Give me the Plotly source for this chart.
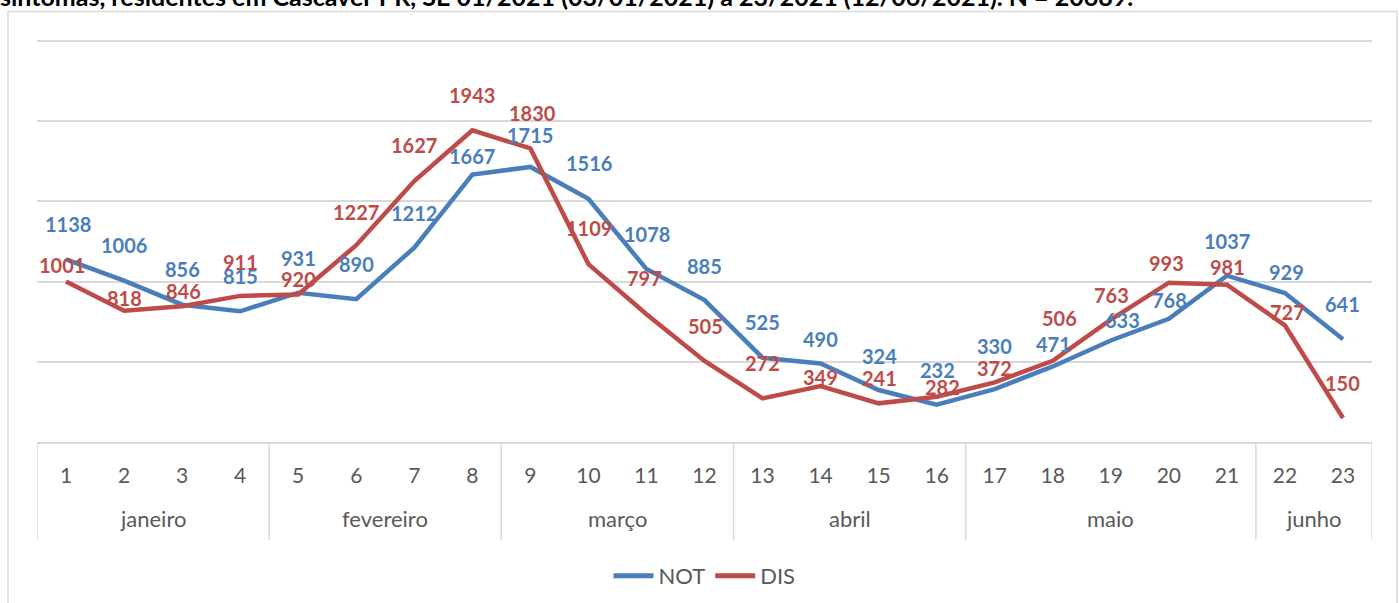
import plotly.graph_objects as go

weeks = list(range(1, 24))
week_labels = [str(w) for w in weeks]
months = ["janeiro", "fevereiro", "março", "abril", "maio", "junho"]
month_weeks = [[1, 2, 3, 4], [5, 6, 7, 8], [9, 10, 11, 12], [13, 14, 15, 16], [17, 18, 19, 20, 21], [22, 23]]
not_vals = [1138, 1006, 856, 815, 931, 890, 1212, 1667, 1715, 1516, 1078, 885,
            525, 490, 324, 232, 330, 471, 633, 768, 1037, 929, 641]
dis_vals = [1001, 818, 846, 911, 920, 1227, 1627, 1943, 1830, 1109, 797, 505,
            272, 349, 241, 282, 372, 506, 763, 993, 981, 727, 150]

title_text = "sintomas, residentes em Cascavel-PR, SE 01/2021 (03/01/2021) a 23/2021 (12/06/2021). N = 20689."

# label offsets (pixels; dy negative = above point)
not_dy = [-35, -36, -36, -35, -35, -35, -35, -19, -32, -36, -35, -34,
          -36, -24, -34, -35, -43, -22, -20, -19, -35, -21, -35]
not_dx = [2, 0, 0, 0, 0, 0, 0, 0, 0, 1, 1, 0, 0, 0, 1, 1, 0, 1, 12, 1, 0, 2, 0]
dis_dy = [-16, -13, -15, -34, -15, -33, -36, -35, -35, -36, -36, -35,
          -35, -9, -25, -10, -14, -43, -25, -20, -18, -13, -35]
dis_dx = [-4, 0, 1, 0, 0, 0, 0, 0, 2, 1, -2, 1, 0, 0, 1, 6, 0, 7, 1, -2, 1, 3, 0]

BLUE = "#4A7EBB"
RED = "#BE4B48"
GRAY = "#595959"
FONT = "Lato"

TOP = 36
BOTTOM_AXIS = 442
plot_h = BOTTOM_AXIS - TOP
y_max = 2500 * plot_h / (BOTTOM_AXIS - 41)

fig = go.Figure()
fig.add_trace(go.Scatter(x=weeks, y=not_vals, name="NOT", mode="lines",
                         line=dict(color=BLUE, width=4.5)))
fig.add_trace(go.Scatter(x=weeks, y=dis_vals, name="DIS", mode="lines",
                         line=dict(color=RED, width=4.5)))

annotations = []
for w, v, dx, dy in zip(weeks, not_vals, not_dx, not_dy):
    annotations.append(dict(x=w, y=v, xref="x", yref="y", text="<b>" + str(v) + "</b>", showarrow=False,
                            xshift=dx, yshift=-dy, font=dict(family=FONT, size=20, color=BLUE)))
for w, v, dx, dy in zip(weeks, dis_vals, dis_dx, dis_dy):
    annotations.append(dict(x=w, y=v, xref="x", yref="y", text="<b>" + str(v) + "</b>", showarrow=False,
                            xshift=dx, yshift=-dy, font=dict(family=FONT, size=20, color=RED)))

def py(pix):
    return (BOTTOM_AXIS - pix) / plot_h
def px(pix):
    return (pix - 37) / 1335

for m, ws in zip(months, month_weeks):
    annotations.append(dict(x=(ws[0] + ws[-1]) / 2, y=py(518), xref="x", yref="paper",
                            text=m, showarrow=False, yanchor="middle",
                            font=dict(family=FONT, size=22, color=GRAY)))

annotations.append(dict(x=px(-2), y=py(-4), xref="paper", yref="paper", text="<b>" + title_text + "</b>",
                        showarrow=False, xanchor="left", yanchor="middle",
                        font=dict(family=FONT, size=25, color="#000000")))

shapes = []
bounds = [month_weeks[0][0] - 0.5] + [ws[-1] + 0.5 for ws in month_weeks]
for b in bounds:
    shapes.append(dict(type="line", xref="x", yref="paper", x0=b, x1=b, y0=0, y1=py(540),
                       line=dict(color="#D9D9D9", width=1.5)))
shapes.append(dict(type="rect", xref="paper", yref="paper", x0=px(8), x1=px(1397),
                   y0=py(610), y1=py(11.5), line=dict(color="#D9D9D9", width=1.5),
                   fillcolor="rgba(0,0,0,0)", layer="below"))

fig.update_layout(
    width=1399, height=603,
    margin=dict(l=37, r=27, t=TOP, b=603 - BOTTOM_AXIS, autoexpand=False),
    paper_bgcolor="white", plot_bgcolor="white",
    showlegend=True,
    legend=dict(orientation="h", x=0.5, xanchor="center", y=py(576), yanchor="middle",
                font=dict(family=FONT, size=22, color=GRAY), itemwidth=40,
                tracegroupgap=0, itemsizing="constant"),
    annotations=annotations,
    shapes=shapes,
)
fig.update_xaxes(range=[0.5, 23.5], tickvals=weeks, ticktext=week_labels, ticks="", automargin=False,
                 showgrid=False, zeroline=False, showline=True, linecolor="#D9D9D9", linewidth=1.5,
                 tickfont=dict(family=FONT, size=21, color=GRAY), ticklabelstandoff=14)
fig.update_yaxes(range=[0, y_max], tickvals=[500, 1000, 1500, 2000, 2500], showticklabels=False, showgrid=True,
                 automargin=False, gridcolor="#D9D9D9", gridwidth=1.5, zeroline=False, showline=False)

fig.write_html("out.html", config={"displayModeBar": False},
               post_script="document.body.style.margin='0';document.body.style.overflow='hidden';")
